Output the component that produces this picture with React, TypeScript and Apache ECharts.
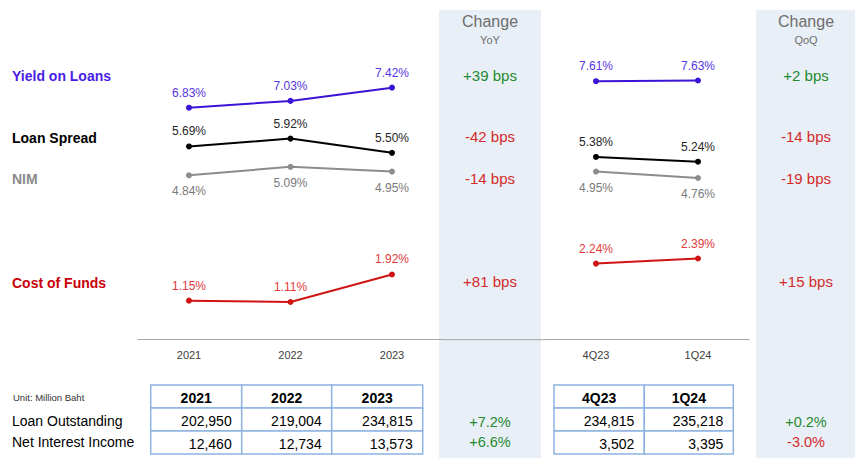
import React, { useEffect, useRef } from "react";
import * as echarts from "echarts";

const yearCats = ["2021", "2022", "2023"];
const quarterCats = ["4Q23", "1Q24"];

const yieldYear = [6.83, 7.03, 7.42];
const spreadYear = [5.69, 5.92, 5.5];
const nimYear = [4.84, 5.09, 4.95];
const cofYear = [1.15, 1.11, 1.92];

const yieldQ = [7.61, 7.63];
const spreadQ = [5.38, 5.24];
const nimQ = [4.95, 4.76];
const cofQ = [2.24, 2.39];

const metricNames = ["Yield on Loans", "Loan Spread", "NIM", "Cost of Funds"];
const yoyChange = ["+39 bps", "-42 bps", "-14 bps", "+81 bps"];
const qoqChange = ["+2 bps", "-14 bps", "-19 bps", "+15 bps"];
// good (green) or bad (red) outcome of each change
const changeGood = [true, false, false, false];

const tableRows = ["Loan Outstanding", "Net Interest Income"];
const loanYear = ["202,950", "219,004", "234,815"];
const niiYear = ["12,460", "12,734", "13,573"];
const loanQ = ["234,815", "235,218"];
const niiQ = ["3,502", "3,395"];
const tableYoY = ["+7.2%", "+6.6%"];
const tableQoQ = ["+0.2%", "-3.0%"];

const FONT = "'Liberation Sans', Arial, sans-serif";
const GREEN = "#1f8a2f";
const RED = "#d42a2a";

const lineColors = ["#3c14d8", "#000000", "#8c8c8c", "#d01414"];
const labelColors = ["#5536e2", "#262626", "#7a7a7a", "#e03a3a"];
const nameColors = ["#4a1de6", "#000000", "#8a8a8a", "#c8000a"];
const metricY = [76, 137.7, 179.3, 283.3];
const changeY = [75, 136.7, 178.3, 281.7];

function txt(
  text: string,
  x: number,
  y: number,
  size: number,
  fill: string,
  align: string = "left",
  bold = false
) {
  return {
    type: "text",
    x,
    y,
    z: 10,
    style: {
      text,
      fill,
      font: `${bold ? "bold " : ""}${size}px ${FONT}`,
      align,
      textAlign: align,
      verticalAlign: "middle",
      textVerticalAlign: "middle",
    },
  };
}

function tableGraphics(
  xs: number[],
  ys: number[],
  headers: string[],
  rows: string[][]
) {
  const els: any[] = [];
  for (let r = 0; r < ys.length - 1; r++) {
    for (let c = 0; c < xs.length - 1; c++) {
      els.push({
        type: "rect",
        z: 5,
        shape: { x: xs[c], y: ys[r], width: xs[c + 1] - xs[c], height: ys[r + 1] - ys[r] },
        style: { fill: "#ffffff", stroke: "#8db3e2", lineWidth: 1.5 },
      });
    }
  }
  headers.forEach((h, c) => {
    els.push(txt(h, (xs[c] + xs[c + 1]) / 2, (ys[0] + ys[1]) / 2 + 1, 14, "#000000", "center", true));
  });
  rows.forEach((row, r) => {
    row.forEach((v, c) => {
      els.push(txt(v, xs[c + 1] - 10, (ys[r + 1] + ys[r + 2]) / 2 + 1, 14, "#000000", "right"));
    });
  });
  return els;
}

function makeSeries(data: number[], idx: number, axis: number) {
  const below = idx === 2;
  return {
    type: "line",
    xAxisIndex: axis,
    yAxisIndex: axis,
    data,
    symbol: "circle",
    symbolSize: 6,
    lineStyle: { color: lineColors[idx], width: 2 },
    itemStyle: { color: lineColors[idx] },
    label: {
      show: true,
      position: below ? "bottom" : "top",
      distance: below ? 7 : 6,
      formatter: (p: any) => p.value.toFixed(2) + "%",
      color: labelColors[idx],
      fontFamily: FONT,
      fontSize: 12,
    },
  };
}

export default function App() {
  const ref = useRef<HTMLDivElement>(null);
  useEffect(() => {
    if (!ref.current) return;
    const chart = echarts.init(ref.current, undefined, { renderer: "svg" });

    const graphics: any[] = [];
    graphics.push({
      type: "rect",
      z: -10,
      shape: { x: 439, y: 10, width: 102, height: 448 },
      style: { fill: "#e9eff7" },
    });
    graphics.push({
      type: "rect",
      z: -10,
      shape: { x: 756, y: 10, width: 99, height: 448 },
      style: { fill: "#e9eff7" },
    });
    graphics.push({
      type: "line",
      z: 1,
      shape: { x1: 442, y1: 339.7, x2: 546, y2: 339.7 },
      style: { stroke: "#a6a6a6", lineWidth: 1 },
    });
    graphics.push(txt("Change", 490, 21.5, 16, "#6e6e6e", "center"));
    graphics.push(txt("YoY", 490, 40, 11, "#6e6e6e", "center"));
    graphics.push(txt("Change", 806, 21.5, 16, "#6e6e6e", "center"));
    graphics.push(txt("QoQ", 806, 40, 11, "#6e6e6e", "center"));

    metricNames.forEach((n, i) => {
      graphics.push(txt(n, 12, metricY[i], 14, nameColors[i], "left", true));
      const col = changeGood[i] ? GREEN : RED;
      graphics.push(txt(yoyChange[i], 490, changeY[i], 15, col, "center"));
      graphics.push(txt(qoqChange[i], 806, changeY[i], 15, col, "center"));
    });

    graphics.push(txt("Unit: Million Baht", 13, 397.3, 9.5, "#333333", "left"));
    tableRows.forEach((r, i) => {
      graphics.push(txt(r, 12, [421, 441.5][i], 14, "#000000", "left"));
      graphics.push(txt(tableYoY[i], 490, [421.7, 441.7][i], 14.5, tableYoY[i].startsWith("+") ? GREEN : RED, "center"));
      graphics.push(txt(tableQoQ[i], 806, [421.7, 441.7][i], 14.5, tableQoQ[i].startsWith("+") ? GREEN : RED, "center"));
    });

    graphics.push(
      ...tableGraphics([150.7, 241.7, 331.7, 422.7], [385, 408, 431, 454], yearCats, [loanYear, niiYear])
    );
    graphics.push(
      ...tableGraphics([554, 644.3, 733.3], [385, 408, 431, 454], quarterCats, [loanQ, niiQ])
    );

    const axisCommon = {
      type: "category" as const,
      boundaryGap: true,
      axisLine: { show: true, lineStyle: { color: "#a6a6a6", width: 1 } },
      axisTick: { show: false },
      axisLabel: { color: "#404040", fontFamily: FONT, fontSize: 11, margin: 10 },
    };
    const yCommon = {
      type: "value" as const,
      min: 0,
      max: 10,
      show: false,
      splitLine: { show: false },
    };

    chart.setOption({
      animation: false,
      backgroundColor: "#ffffff",
      grid: [
        { left: 138.25, width: 304.5, top: 0, bottom: 118.3 },
        { left: 545, width: 204, top: 0, bottom: 118.3 },
      ],
      xAxis: [
        { ...axisCommon, gridIndex: 0, data: yearCats },
        { ...axisCommon, gridIndex: 1, data: quarterCats },
      ],
      yAxis: [
        { ...yCommon, gridIndex: 0 },
        { ...yCommon, gridIndex: 1 },
      ],
      series: [
        makeSeries(yieldYear, 0, 0),
        makeSeries(spreadYear, 1, 0),
        makeSeries(nimYear, 2, 0),
        makeSeries(cofYear, 3, 0),
        makeSeries(yieldQ, 0, 1),
        makeSeries(spreadQ, 1, 1),
        makeSeries(nimQ, 2, 1),
        makeSeries(cofQ, 3, 1),
      ],
      graphic: graphics,
    });
    return () => chart.dispose();
  }, []);

  return (
    <div
      ref={ref}
      style={{ position: "absolute", left: 0, top: 0, width: 866, height: 458 }}
    />
  );
}
